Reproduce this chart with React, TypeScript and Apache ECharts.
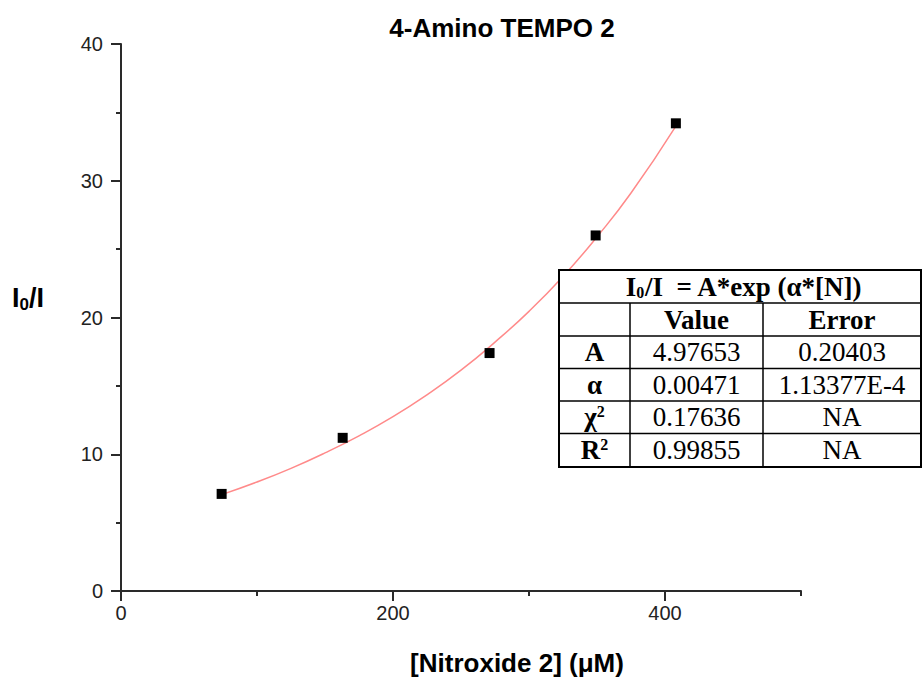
import React, { useEffect, useRef } from "react";
import * as echarts from "echarts";

// Measured points: [Nitroxide 2] (µM) vs I0/I
const concentration = [74, 163, 271, 349, 408];
const ratio = [7.1, 11.2, 17.4, 26.0, 34.2];

// Fitted curve
const fitX = [74, 100, 125, 150, 175, 200, 225, 250, 275, 300, 325, 350, 375, 408];
const fitY = [7.05, 7.97, 8.97, 10.1, 11.35, 12.75, 14.35, 16.15, 18.2, 20.45, 23.0, 25.9, 29.1, 34.0];

const xMajorTicks = [0, 200, 400];
const xMinorTicks = [100, 300, 500];

const tableHead = ["", "Value", "Error"];
const tableRows = [
  ["A", "4.97653", "0.20403"],
  ["α", "0.00471", "1.13377E-4"],
  ["χ2", "0.17636", "NA"],
  ["R2", "0.99855", "NA"],
];

const AX = "#2a2a2a";
const SERIF = "'Liberation Serif', 'Times New Roman', serif";
const SANS = "'Liberation Sans', Arial, sans-serif";
const TF = 27;

function buildTable(): any[] {
  const x0 = 559, x1 = 630, x2 = 763, x3 = 921;
  const y0 = 270;
  const rowH = [33, 33, 32.5, 32.5, 32.5, 33.5];
  const ys: number[] = [y0];
  rowH.forEach((h) => ys.push(ys[ys.length - 1] + h));
  const els: any[] = [];
  els.push({
    type: "rect",
    shape: { x: x0, y: ys[0], width: x3 - x0, height: ys[6] - ys[0] },
    style: { fill: "#fff", stroke: "#000", lineWidth: 2 },
    z: 10,
  });
  for (let i = 1; i < 6; i++) {
    els.push({
      type: "line",
      shape: { x1: x0, y1: ys[i], x2: x3, y2: ys[i] },
      style: { stroke: "#000", lineWidth: 1.5 },
      z: 11,
    });
  }
  [x1, x2].forEach((vx) =>
    els.push({
      type: "line",
      shape: { x1: vx, y1: ys[1], x2: vx, y2: ys[6] },
      style: { stroke: "#000", lineWidth: 1.5 },
      z: 11,
    })
  );
  const cx = [(x0 + x1) / 2, (x1 + x2) / 2, (x2 + x3) / 2];
  const cy = (i: number) => (ys[i] + ys[i + 1]) / 2;
  els.push({
    type: "text",
    x: (x0 + x3) / 2 + 4,
    y: cy(0),
    z: 12,
    style: {
      text: "{b|I}{s|0}{b|/I  = A*exp (α*[N])}",
      align: "center",
      verticalAlign: "middle",
      rich: {
        b: { fontFamily: SERIF, fontSize: TF, fontWeight: "bold", fill: "#000" },
        s: { fontFamily: SERIF, fontSize: 16, fontWeight: "bold", fill: "#000", padding: [12, 0, 0, 0] },
      },
    },
  });
  tableHead.forEach((t, j) => {
    if (!t) return;
    els.push({
      type: "text",
      x: cx[j],
      y: cy(1),
      z: 12,
      style: { text: t, align: "center", verticalAlign: "middle", fontFamily: SERIF, fontSize: TF, fontWeight: "bold", fill: "#000" },
    });
  });
  tableRows.forEach((row, i) => {
    row.forEach((t, j) => {
      let style: any;
      if (j === 0 && t.endsWith("2")) {
        style = {
          text: "{b|" + t.slice(0, -1) + "}{p|2}",
          align: "center",
          verticalAlign: "middle",
          rich: {
            b: { fontFamily: SERIF, fontSize: TF, fontWeight: "bold", fill: "#000" },
            p: { fontFamily: SERIF, fontSize: 16, fontWeight: "bold", fill: "#000", padding: [0, 0, 12, 0] },
          },
        };
      } else {
        style = {
          text: t,
          align: "center",
          verticalAlign: "middle",
          fontFamily: SERIF,
          fontSize: TF,
          fontWeight: j === 0 ? "bold" : "normal",
          fill: "#000",
        };
      }
      els.push({ type: "text", x: cx[j], y: cy(i + 2), z: 12, style });
    });
  });
  return els;
}

export default function App() {
  const ref = useRef<HTMLDivElement>(null);
  useEffect(() => {
    document.body.style.margin = "0";
    const chart = echarts.init(ref.current!, null, { renderer: "svg" });
    const option: any = {
      animation: false,
      backgroundColor: "#fff",
      grid: { left: 121, right: 123, top: 44, bottom: 86 },
      xAxis: [
        {
          type: "value",
          min: 0,
          max: 500,
          interval: 100,
          axisLine: { show: true, lineStyle: { color: AX, width: 2 } },
          axisTick: { show: true, customValues: xMinorTicks, length: 5, lineStyle: { color: AX, width: 2 } },
          axisLabel: { show: false },
          splitLine: { show: false },
        },
        {
          type: "value",
          min: 0,
          max: 500,
          interval: 100,
          position: "bottom",
          axisLine: { show: false },
          axisTick: { show: true, customValues: xMajorTicks, length: 10, lineStyle: { color: AX, width: 2 } },
          axisLabel: { show: true, customValues: xMajorTicks, fontFamily: SANS, fontSize: 20, color: "#222", margin: 12 },
          splitLine: { show: false },
        },
      ],
      yAxis: {
        type: "value",
        min: 0,
        max: 40,
        interval: 10,
        axisLine: { show: true, lineStyle: { color: AX, width: 2 } },
        axisTick: { show: true, length: 10, lineStyle: { color: AX, width: 2 } },
        minorTick: { show: true, splitNumber: 2, length: 5, lineStyle: { color: AX, width: 2 } },
        axisLabel: { fontFamily: SANS, fontSize: 20, color: "#222", margin: 18 },
        splitLine: { show: false },
      },
      graphic: [
        {
          type: "text",
          x: 502,
          y: 28,
          style: { text: "4-Amino TEMPO 2", align: "center", verticalAlign: "middle", fontFamily: SANS, fontSize: 26, fontWeight: "bold", fill: "#000" },
        },
        {
          type: "text",
          x: 517,
          y: 663,
          style: { text: "[Nitroxide 2] (μM)", align: "center", verticalAlign: "middle", fontFamily: SANS, fontSize: 26, fontWeight: "bold", fill: "#000" },
        },
        {
          type: "text",
          x: 12,
          y: 298,
          style: {
            text: "{b|I}{s|0}{b|/I}",
            align: "left",
            verticalAlign: "middle",
            rich: {
              b: { fontFamily: SANS, fontSize: 27, fontWeight: "bold", fill: "#000" },
              s: { fontFamily: SANS, fontSize: 17, fontWeight: "bold", fill: "#000", padding: [12, 0, 0, 0] },
            },
          },
        },
        ...buildTable(),
      ],
      series: [
        {
          type: "line",
          data: fitX.map((x, i) => [x, fitY[i]]),
          smooth: true,
          showSymbol: false,
          lineStyle: { color: "#ff8a8a", width: 1.5 },
          z: 2,
        },
        {
          type: "scatter",
          data: concentration.map((x, i) => [x, ratio[i]]),
          symbol: "rect",
          symbolSize: 10,
          itemStyle: { color: "#000", opacity: 1 },
          z: 3,
        },
      ],
    };
    chart.setOption(option);
    return () => chart.dispose();
  }, []);
  return <div ref={ref} style={{ position: "absolute", left: 0, top: 0, width: 924, height: 677 }} />;
}
